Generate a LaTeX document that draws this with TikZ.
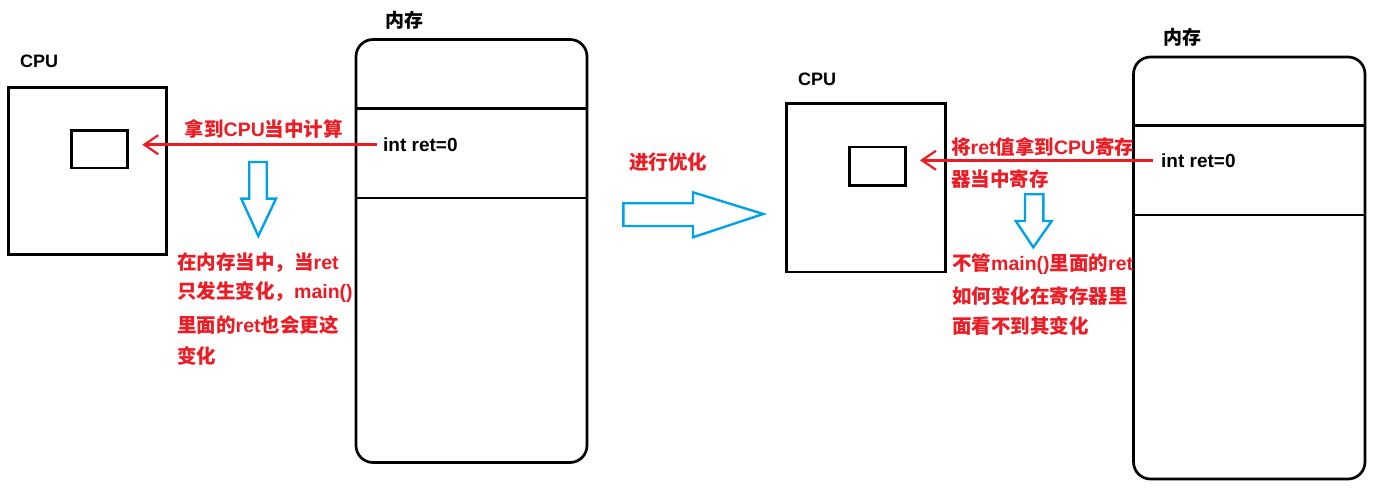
\documentclass[tikz,border=0pt]{standalone}
\usepackage{fontspec}
\setmainfont{Liberation Sans}
\newfontfamily\cjkfont{Noto Sans CJK SC}
\newcommand{\zh}[1]{{\cjkfont #1}}
\usetikzlibrary{arrows.meta}
\definecolor{pred}{RGB}{237,28,36}
\definecolor{pblue}{RGB}{0,162,232}
\begin{document}
\begin{tikzpicture}[x=1pt,y=-1pt,
  blk/.style={draw=black, line width=2.7pt, inner sep=0pt, outer sep=0pt, anchor=north west},
  mem/.style={blk, rounded corners=17pt},
  lbl/.style={inner sep=0pt, anchor=west, font=\fontsize{18}{20}\selectfont\bfseries},
  code/.style={lbl, font=\fontsize{19}{21}\selectfont\bfseries},
  note/.style={inner sep=0pt, anchor=west, text=pred, font=\fontsize{19.5}{22}\selectfont\bfseries},
  fetch/.style={draw=pred, line width=2.5pt, -{Straight Barb[length=14pt,width=19pt,line width=2.2pt]}},
  hollow/.style={draw=pblue, line width=2.4pt, line join=miter}
]
\useasboundingbox[fill=white] (0,0) rectangle (1376,497);

% ---------- left half ----------
\node[lbl] (cpuLlbl) at (20,61.7) {CPU};
\node[blk, minimum width=158.4pt, minimum height=167pt] (cpuL) at (8.3,87.8) {};
\node[blk, minimum width=56pt, minimum height=37.7pt] (regL) at (71.3,130.3) {};

\node[code] (memLlbl) at (385,20) {\zh{内存}};
\node[mem, minimum width=231pt, minimum height=423pt] (memL) at (356,39.5) {};
\node[blk, minimum width=231pt, minimum height=89.5pt] (rowL) at (356,108.5) {};
\node[code] (retL) at (383,144.7) {int ret=0};

\draw[fetch] ([xshift=-6.3pt]retL.west) -- ([xshift=15pt]regL.east |- retL.west);
\node[note] (fetchL) at (184.5,129) {\zh{拿到}CPU\zh{当中计算}};

\draw[hollow] (249.2,162) -- (266.7,162) -- (266.7,198.7) -- (276,198.7) -- (258.3,236)
  -- (241.3,198.7) -- (249.2,198.7) -- cycle;

\node[note] (noteL1) at (177,262.5) {\zh{在内存当中，当}ret};
\node[note] (noteL2) at (177,292.5) {\zh{只发生变化，}main()};
\node[note] (noteL3) at (177,325) {\zh{里面的}ret\zh{也会更这}};
\node[note] (noteL4) at (177,356) {\zh{变化}};

% ---------- middle ----------
\node[note] (opt) at (629,161.7) {\zh{进行优化}};
\draw[hollow] (623.3,203.3) -- (693,203.3) -- (693,192.3) -- (763.3,214) -- (693,237.3)
  -- (693,226) -- (623.3,226) -- cycle;

% ---------- right half ----------
\node[lbl] (cpuRlbl) at (798,79) {CPU};
\node[blk, minimum width=159pt, minimum height=168.2pt] (cpuR) at (786.7,103.8) {};
\node[blk, minimum width=56.4pt, minimum height=38.7pt] (regR) at (849.3,147) {};

\node[code] (memRlbl) at (1163,37) {\zh{内存}};
\node[mem, minimum width=231.5pt, minimum height=422pt] (memR) at (1133.5,57) {};
\node[blk, minimum width=231.5pt, minimum height=89.5pt] (rowR) at (1133.5,125.5) {};
\node[code] (retR) at (1161,160.3) {int ret=0};

\draw[fetch] ([xshift=-7.7pt]retR.west) -- ([xshift=14.3pt]regR.east |- retR.west);
\node[note] (fetchR1) at (951,146.7) {\zh{将}ret\zh{值拿到}CPU\zh{寄存}};
\node[note] (fetchR2) at (951,179) {\zh{器当中寄存}};

\draw[hollow] (1025,194.3) -- (1043.3,194.3) -- (1043.3,221) -- (1051.7,221) -- (1033.3,247.3)
  -- (1015.7,221) -- (1025,221) -- cycle;

\node[note] (noteR1) at (952,264) {\zh{不管}main()\zh{里面的}ret};
\node[note] (noteR2) at (952,296) {\zh{如何变化在寄存器里}};
\node[note] (noteR3) at (952,326) {\zh{面看不到其变化}};
\end{tikzpicture}
\end{document}
